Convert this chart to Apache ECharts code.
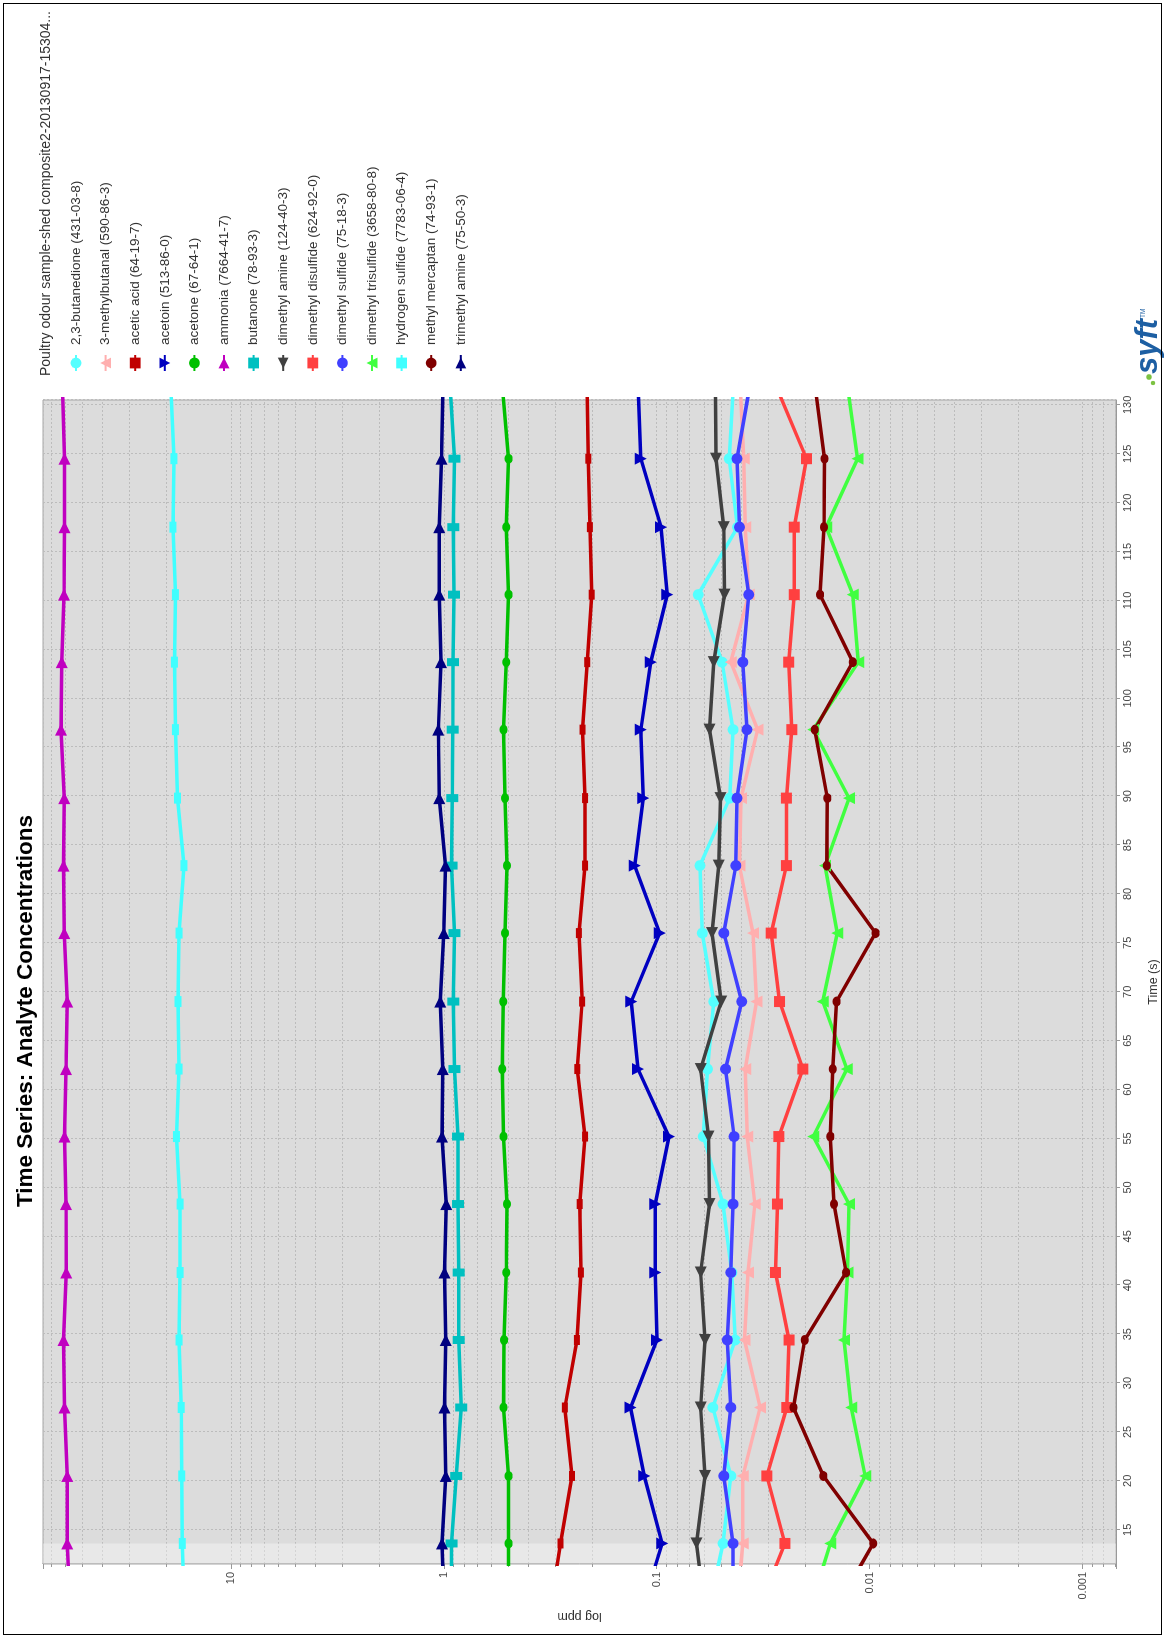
<!DOCTYPE html>
<html>
<head>
<meta charset="utf-8">
<title>Time Series: Analyte Concentrations</title>
<script src="https://cdn.jsdelivr.net/npm/echarts@6/dist/echarts.min.js"></script>
<style>
  html, body { margin: 0; padding: 0; width: 1165px; height: 1638px; overflow: hidden; background: #fff; }
  /* chart is laid out landscape, then turned a quarter turn to the left like the original export */
  #chart {
    position: absolute; left: 0; top: 0;
    width: 1638px; height: 1165px;
    transform-origin: 0 0;
    transform: translate(0, 1638px) rotate(-90deg);
  }
  #frame { position: absolute; left: 3px; top: 3px; width: 1157px; height: 1630px; border: 1.5px solid #000; pointer-events: none; }
</style>
</head>
<body>
<div id="chart"></div>
<div id="frame"></div>
<script>
// sample times (s); first and last fall outside the visible axis range
const times = [6.7, 13.6, 20.5, 27.5, 34.4, 41.3, 48.3, 55.2, 62.1, 69.0, 76.0, 82.9, 89.8, 96.8, 103.7, 110.6, 117.5, 124.5, 131.4];

// concentrations, ppm
const butanedione = [0.0572, 0.0488, 0.0449, 0.0545, 0.0428, 0.0444, 0.0488, 0.0604, 0.0578, 0.054, 0.0611, 0.0627, 0.0454, 0.0438, 0.0493, 0.0639, 0.0417, 0.0457, 0.0438];
const methylbutanal = [0.042, 0.0394, 0.0394, 0.0327, 0.0387, 0.0373, 0.0346, 0.0376, 0.0384, 0.034, 0.0353, 0.0409, 0.0402, 0.0336, 0.0449, 0.037, 0.0384, 0.039, 0.0404];
const aceticAcid = [0.318, 0.283, 0.250, 0.270, 0.237, 0.227, 0.230, 0.217, 0.236, 0.224, 0.232, 0.217, 0.217, 0.223, 0.212, 0.202, 0.206, 0.2095, 0.212];
const acetoin = [0.118, 0.0943, 0.1144, 0.1327, 0.0998, 0.1015, 0.1015, 0.0876, 0.1224, 0.1317, 0.0968, 0.1269, 0.1156, 0.1187, 0.1066, 0.0892, 0.0954, 0.1187, 0.122];
const acetone = [0.498, 0.496, 0.496, 0.524, 0.521, 0.509, 0.505, 0.524, 0.532, 0.526, 0.516, 0.505, 0.516, 0.524, 0.509, 0.496, 0.509, 0.496, 0.528];
const ammonia = [56.5, 58.7, 58.7, 60.4, 61.1, 59.2, 59.4, 60.4, 59.4, 58.7, 60.5, 61.1, 60.5, 62.8, 62.2, 60.7, 60.4, 60.4, 61.7];
const butanone = [0.919, 0.919, 0.874, 0.828, 0.851, 0.851, 0.857, 0.857, 0.891, 0.902, 0.891, 0.919, 0.912, 0.908, 0.905, 0.895, 0.902, 0.891, 0.932];
const dimethylAmine = [0.0596, 0.065, 0.0593, 0.0622, 0.0593, 0.0622, 0.0565, 0.0571, 0.0622, 0.0498, 0.055, 0.0511, 0.0502, 0.0565, 0.054, 0.048, 0.0484, 0.0527, 0.053];
const dimethylDisulfide = [0.0334, 0.025, 0.0304, 0.0245, 0.0239, 0.0277, 0.0271, 0.0267, 0.0206, 0.0265, 0.029, 0.0246, 0.0246, 0.0232, 0.024, 0.0226, 0.0226, 0.0198, 0.0269];
const dimethylSulfide = [0.0438, 0.0438, 0.0484, 0.0449, 0.0466, 0.0449, 0.0438, 0.0433, 0.0475, 0.0399, 0.0484, 0.0425, 0.042, 0.0377, 0.0394, 0.037, 0.0409, 0.042, 0.0369];
const dimethylTrisulfide = [0.0192, 0.0153, 0.0105, 0.0122, 0.0132, 0.0127, 0.0125, 0.0184, 0.0128, 0.0166, 0.0142, 0.0162, 0.0125, 0.0184, 0.0113, 0.012, 0.016, 0.0114, 0.0126];
const hydrogenSulfide = [16.5, 16.9, 17.0, 17.1, 17.5, 17.3, 17.3, 18.0, 17.5, 17.7, 17.5, 16.6, 17.8, 18.2, 18.4, 18.2, 18.7, 18.5, 19.1];
const methylMercaptan = [0.0146, 0.00962, 0.0165, 0.0228, 0.0202, 0.0129, 0.0147, 0.0153, 0.0149, 0.0143, 0.00938, 0.0159, 0.0158, 0.0181, 0.012, 0.0171, 0.0164, 0.0163, 0.0179];
const trimethylAmine = [0.993, 1.02, 0.98, 0.993, 0.98, 0.993, 0.973, 1.02, 1.01, 1.04, 1.0, 0.981, 1.05, 1.06, 1.03, 1.05, 1.05, 1.024, 1.01];

const names = [
  '2,3-butanedione (431-03-8)', '3-methylbutanal (590-86-3)', 'acetic acid (64-19-7)', 'acetoin (513-86-0)',
  'acetone (67-64-1)', 'ammonia (7664-41-7)', 'butanone (78-93-3)', 'dimethyl amine (124-40-3)',
  'dimethyl disulfide (624-92-0)', 'dimethyl sulfide (75-18-3)', 'dimethyl trisulfide (3658-80-8)',
  'hydrogen sulfide (7783-06-4)', 'methyl mercaptan (74-93-1)', 'trimethyl amine (75-50-3)'
];
const values = [butanedione, methylbutanal, aceticAcid, acetoin, acetone, ammonia, butanone, dimethylAmine,
  dimethylDisulfide, dimethylSulfide, dimethylTrisulfide, hydrogenSulfide, methylMercaptan, trimethylAmine];

// marker shapes (drawn in the unrotated frame)
const UP = 'path://M5,0 L10,10 L0,10 Z';
const DOWN = 'path://M0,0 L10,0 L5,10 Z';
const LEFT = 'path://M10,0 L10,10 L0,5 Z';
const RIGHT = 'path://M0,0 L10,5 L0,10 Z';
const OVAL = 'path://M0,5 A5,5 0 1,1 10,5 A5,5 0 1,1 0,5 Z';

const looks = [
  { color: '#55ffff', symbol: 'circle', size: 11 },
  { color: '#ffafaf', symbol: UP, size: 12 },
  { color: '#c00000', symbol: 'rect', size: [10, 6] },
  { color: '#0000c0', symbol: DOWN, size: 12 },
  { color: '#00c000', symbol: OVAL, size: [10, 8] },
  { color: '#c000c0', symbol: RIGHT, size: 12 },
  { color: '#00c0c0', symbol: 'rect', size: [8, 12] },
  { color: '#404040', symbol: LEFT, size: 12 },
  { color: '#ff4040', symbol: 'rect', size: 11 },
  { color: '#4040ff', symbol: 'circle', size: 11 },
  { color: '#40ff40', symbol: UP, size: 12 },
  { color: '#40ffff', symbol: 'rect', size: [11, 7] },
  { color: '#800000', symbol: OVAL, size: [10, 8] },
  { color: '#000080', symbol: RIGHT, size: 12 }
];

const gridLine = { color: '#bcbcbc', width: 1, type: [2, 2] };
const FONT = '"Liberation Sans", Arial, sans-serif';

const series = names.map(function (name, k) {
  const s = {
    name: name,
    type: 'line',
    data: times.map(function (t, i) { return [t, values[k][i]]; }),
    color: looks[k].color,
    symbol: looks[k].symbol,
    symbolSize: looks[k].size,
    lineStyle: { width: 3.5, color: looks[k].color },
    itemStyle: { color: looks[k].color },
    clip: true,
    emphasis: { disabled: true }
  };
  if (k === 0) {
    // lighter band before the first sample
    s.markArea = {
      silent: true,
      itemStyle: { color: 'rgba(255,255,255,0.35)' },
      data: [[{ xAxis: 11.5 }, { xAxis: times[1] }]]
    };
  }
  return s;
});

const chart = echarts.init(document.getElementById('chart'), null, { renderer: 'canvas' });

chart.setOption({
  animation: false,
  textStyle: { fontFamily: FONT },
  title: {
    text: 'Time Series: Analyte Concentrations',
    left: 622, top: 9, textAlign: 'center',
    textStyle: { fontSize: 22.5, fontWeight: 'bold', color: '#000' }
  },
  grid: {
    left: 74, right: 400, top: 43, bottom: 48,
    show: true, backgroundColor: '#dcdcdc', borderColor: '#a6a6a6', borderWidth: 1
  },
  legend: {
    orient: 'vertical', left: 1261, top: 64,
    itemWidth: 16, itemHeight: 13.5, itemGap: 15.6,
    textStyle: { fontSize: 13.5, color: '#333', lineHeight: 13.5, padding: [0, 0, 0, 5] },
    data: names
  },
  xAxis: {
    type: 'value', min: 11.5, max: 130.5, splitNumber: 24, minInterval: 5, maxInterval: 5,
    name: 'Time (s)', nameLocation: 'middle', nameGap: 31,
    nameTextStyle: { fontSize: 12.5, color: '#333' },
    axisLine: { lineStyle: { color: '#999' } },
    axisTick: { length: 4, lineStyle: { color: '#999' } },
    axisLabel: { fontSize: 11, color: '#444', margin: 6, showMinLabel: false, showMaxLabel: false },
    splitLine: { show: true, lineStyle: gridLine }
  },
  yAxis: {
    type: 'log', logBase: 10, min: 0.000697, max: 76.2, splitNumber: 5,
    name: 'log ppm', nameLocation: 'middle', nameGap: 46,
    nameTextStyle: { fontSize: 12.5, color: '#333' },
    axisLine: { show: true, lineStyle: { color: '#999' } },
    axisTick: { show: true, length: 5, lineStyle: { color: '#999' } },
    minorTick: { show: true, splitNumber: 9, length: 3, lineStyle: { color: '#999' } },
    axisLabel: {
      fontSize: 11, color: '#444', margin: 8, showMinLabel: false, showMaxLabel: false,
      formatter: function (v) { return String(v); }
    },
    splitLine: { show: true, lineStyle: gridLine },
    minorSplitLine: { show: true, lineStyle: gridLine }
  },
  graphic: [
    {
      type: 'text', left: 1262, top: 39,
      style: { text: 'Poultry odour sample-shed composite2-20130917-15304...', fontSize: 14, fill: '#333', fontFamily: FONT }
    },
    // syft logo
    { type: 'circle', shape: { cx: 1261, cy: 1149, r: 2.8 }, style: { fill: '#7cc242' } },
    { type: 'circle', shape: { cx: 1255, cy: 1153, r: 2.2 }, style: { fill: '#7cc242' } },
    {
      type: 'text', left: 1264, top: 1133,
      style: { text: 'syft', fontSize: 31, fontStyle: 'italic', fontWeight: 'bold', fill: '#1d5fa3', fontFamily: FONT }
    },
    { type: 'text', left: 1320, top: 1140, style: { text: 'TM', fontSize: 6.5, fill: '#1d5fa3' } }
  ],
  series: series
});
</script>
</body>
</html>
